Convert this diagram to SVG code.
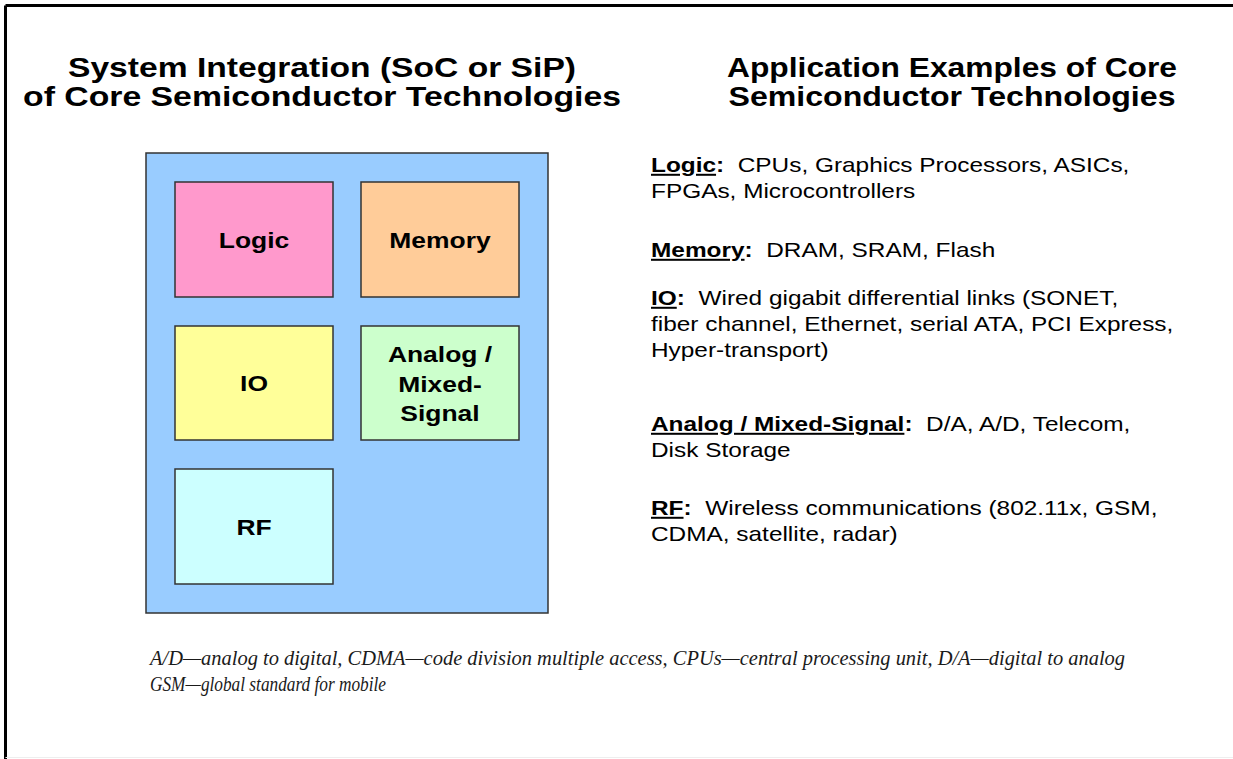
<svg xmlns="http://www.w3.org/2000/svg" width="1233" height="759" viewBox="0 0 1233 759">
  <style>
    .title { font-family: "Liberation Sans", Arial, sans-serif; font-size: 27px; font-weight: bold; fill: #000; text-anchor: middle; }
    .lbl { font-family: "Liberation Sans", Arial, sans-serif; font-size: 21.5px; font-weight: bold; fill: #000; text-anchor: middle; }
    .body { font-family: "Liberation Sans", Arial, sans-serif; font-size: 20px; fill: #000; white-space: pre; }
    .b { font-weight: bold; }
    .u { text-decoration: underline; }
    .note { font-family: "Liberation Serif", "Times New Roman", serif; font-style: italic; font-size: 20px; fill: #1a1a1a; }
    .blk { stroke: #333; stroke-width: 1.5; }
  </style>
  <rect x="0" y="0" width="1233" height="759" fill="#fff"/>
  <g id="frame">
    <line x1="5.5" y1="5.5" x2="1233" y2="5.5" stroke="#000" stroke-width="3"/>
    <line x1="5.5" y1="5.5" x2="5.5" y2="759" stroke="#000" stroke-width="3"/>
    <line x1="5.5" y1="757.5" x2="1233" y2="757.5" stroke="#eeeeee" stroke-width="1"/>
  </g>
  <g id="titles">
    <text class="title" x="322" y="77" textLength="508" lengthAdjust="spacingAndGlyphs">System Integration (SoC or SiP)</text>
    <text class="title" x="322" y="106" textLength="598" lengthAdjust="spacingAndGlyphs">of Core Semiconductor Technologies</text>
    <text class="title" x="952" y="77" textLength="450" lengthAdjust="spacingAndGlyphs">Application Examples of Core</text>
    <text class="title" x="952" y="106" textLength="447" lengthAdjust="spacingAndGlyphs">Semiconductor Technologies</text>
  </g>
  <g id="soc">
    <rect x="146" y="153" width="402" height="460" fill="#99CCFF" class="blk"/>
  </g>
  <g id="logic">
    <rect x="175" y="182" width="158" height="115" fill="#FF99CC" class="blk"/>
    <text class="lbl" transform="matrix(1.23,0,0,1,254,248)">Logic</text>
  </g>
  <g id="memory">
    <rect x="361" y="182" width="158" height="115" fill="#FFCC99" class="blk"/>
    <text class="lbl" transform="matrix(1.23,0,0,1,440,248)">Memory</text>
  </g>
  <g id="io">
    <rect x="175" y="326" width="158" height="114" fill="#FFFF99" class="blk"/>
    <text class="lbl" transform="matrix(1.23,0,0,1,254,391)">IO</text>
  </g>
  <g id="analog">
    <rect x="361" y="326" width="158" height="114" fill="#CCFFCC" class="blk"/>
    <text class="lbl" transform="matrix(1.23,0,0,1,440,362)">Analog /</text>
    <text class="lbl" transform="matrix(1.23,0,0,1,440,392)">Mixed-</text>
    <text class="lbl" transform="matrix(1.23,0,0,1,440,421)">Signal</text>
  </g>
  <g id="rf">
    <rect x="175" y="469" width="158" height="115" fill="#CCFFFF" class="blk"/>
    <text class="lbl" transform="matrix(1.23,0,0,1,254,535)">RF</text>
  </g>
  <g id="connectors"/>
  <g id="examples">
    <text class="body" transform="matrix(1.22,0,0,1,651,172)"><tspan class="b"><tspan class="u">Logic</tspan>:</tspan>  CPUs, Graphics Processors, ASICs,</text>
    <text class="body" transform="matrix(1.22,0,0,1,651,198)">FPGAs, Microcontrollers</text>
    <text class="body" transform="matrix(1.22,0,0,1,651,257)"><tspan class="b"><tspan class="u">Memory</tspan>:</tspan>  DRAM, SRAM, Flash</text>
    <text class="body" transform="matrix(1.22,0,0,1,651,305)"><tspan class="b"><tspan class="u">IO</tspan>:</tspan>  Wired gigabit differential links (SONET,</text>
    <text class="body" transform="matrix(1.22,0,0,1,651,331)">fiber channel, Ethernet, serial ATA, PCI Express,</text>
    <text class="body" transform="matrix(1.22,0,0,1,651,357)">Hyper-transport)</text>
    <text class="body" transform="matrix(1.22,0,0,1,651,431)"><tspan class="b"><tspan class="u">Analog / Mixed-Signal</tspan>:</tspan>  D/A, A/D, Telecom,</text>
    <text class="body" transform="matrix(1.22,0,0,1,651,457)">Disk Storage</text>
    <text class="body" transform="matrix(1.22,0,0,1,651,515)"><tspan class="b"><tspan class="u">RF</tspan>:</tspan>  Wireless communications (802.11x, GSM,</text>
    <text class="body" transform="matrix(1.22,0,0,1,651,541)">CDMA, satellite, radar)</text>
  </g>
  <g id="footnote">
    <text class="note" x="150" y="665" textLength="975" lengthAdjust="spacingAndGlyphs">A/D—analog to digital, CDMA—code division multiple access, CPUs—central processing unit, D/A—digital to analog</text>
    <text class="note" x="150" y="691" textLength="236" lengthAdjust="spacingAndGlyphs">GSM—global standard for mobile</text>
  </g>
</svg>
